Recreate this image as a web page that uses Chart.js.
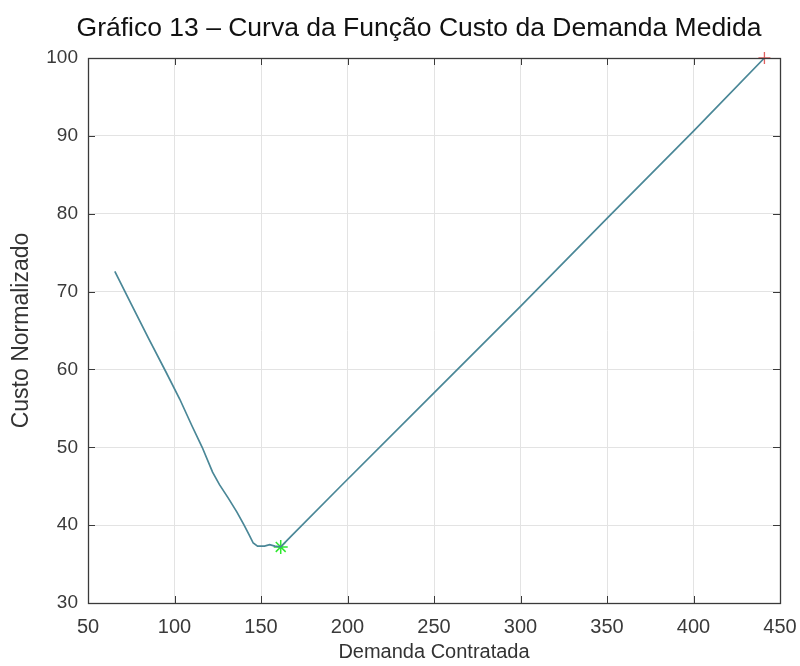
<!DOCTYPE html>
<html><head><meta charset="utf-8">
<script src="https://cdn.jsdelivr.net/npm/chart.js@4.4.1/dist/chart.umd.min.js"></script>
<style>html,body{margin:0;padding:0;background:#fff}#wrap{width:800px;height:666px;position:relative}</style>
</head><body><div id="wrap"><canvas id="c" width="800" height="666"></canvas></div>
<script>
const titleText = 'Gráfico 13 – Curva da Função Custo da Demanda Medida';
const xTitle = 'Demanda Contratada';
const yTitle = 'Custo Normalizado';
const demand = [65.5, 75, 85, 95, 103, 110, 116, 122, 126, 131, 136, 140, 143, 145.5, 148, 152, 155, 158, 161.4, 166.6, 195.6, 250, 300, 350, 400, 441];
const cost   = [72.6, 68.4, 64.0, 59.7, 56.2, 52.8, 50.0, 46.8, 45.2, 43.5, 41.7, 40.1, 38.8, 37.7, 37.3, 37.3, 37.5, 37.3, 37.2, 38.4, 44.9, 57.0, 68.1, 79.4, 90.6, 100];
const optimumX = [161.4];
const optimumY = [37.2];
const currentX = [441];
const currentY = [100];
const xTicks = [50, 100, 150, 200, 250, 300, 350, 400, 450];
const yTicks = [30, 40, 50, 60, 70, 80, 90, 100];

const toPts = (xs, ys) => xs.map((x, i) => ({x: x, y: ys[i]}));

const PL = 88, PR = 780, PT = 58, PB = 603;
const FONT = '"Liberation Sans", Arial, sans-serif';

const decor = {
  id: 'decor',
  afterDraw(chart) {
    const ctx = chart.ctx, a = chart.chartArea;
    const xs = chart.scales.x, ys = chart.scales.y;
    ctx.save();
    ctx.strokeStyle = '#3a3a3a';
    ctx.lineWidth = 1.3;
    ctx.strokeRect(Math.round(a.left) + 0.5, Math.round(a.top) + 0.5, Math.round(a.right - a.left), Math.round(a.bottom - a.top));
    const tl = 7;
    ctx.lineWidth = 1;
    ctx.beginPath();
    xTicks.forEach(v => {
      const p = Math.round(xs.getPixelForValue(v)) + 0.5;
      ctx.moveTo(p, a.bottom); ctx.lineTo(p, a.bottom - tl);
      ctx.moveTo(p, a.top); ctx.lineTo(p, a.top + tl);
    });
    yTicks.forEach(v => {
      const p = Math.round(ys.getPixelForValue(v)) + 0.5;
      ctx.moveTo(a.left, p); ctx.lineTo(a.left + tl, p);
      ctx.moveTo(a.right, p); ctx.lineTo(a.right - tl, p);
    });
    ctx.stroke();
    ctx.fillStyle = '#111';
    ctx.textAlign = 'center';
    ctx.textBaseline = 'alphabetic';
    ctx.font = '26.5px ' + FONT;
    ctx.fillText(titleText, 419, 36);
    ctx.fillStyle = '#333';
    ctx.textBaseline = 'middle';
    ctx.font = '20px ' + FONT;
    ctx.fillText(xTitle, (a.left + a.right) / 2, 652);
    ctx.translate(22, (a.top + a.bottom) / 2);
    ctx.rotate(-Math.PI / 2);
    ctx.font = '23px ' + FONT;
    ctx.fillText(yTitle, 0, 0);
    ctx.restore();
  }
};

new Chart(document.getElementById('c'), {
  type: 'scatter',
  data: {
    datasets: [
      { data: toPts(demand, cost), showLine: true, borderColor: '#4a8797', borderWidth: 1.7, pointRadius: 0, tension: 0, fill: false },
      { data: toPts(optimumX, optimumY), pointStyle: 'star', pointRadius: 7, borderColor: '#2ee82e', backgroundColor: '#2ee82e', borderWidth: 1.5, showLine: false, clip: false },
      { data: toPts(currentX, currentY), pointStyle: 'cross', pointRadius: 6, borderColor: '#e06060', backgroundColor: '#e06060', borderWidth: 1.3, showLine: false, clip: false }
    ]
  },
  options: {
    responsive: false,
    animation: false,
    devicePixelRatio: 1,
    layout: { padding: { left: 0, right: 800 - PR, top: PT, bottom: 0 } },
    plugins: { legend: { display: false }, tooltip: { enabled: false }, title: { display: false } },
    scales: {
      x: {
        type: 'linear', min: 50, max: 450,
        afterBuildTicks: s => { s.ticks = xTicks.map(v => ({value: v})); },
        afterFit: s => { s.height = 666 - PB; s.paddingLeft = 0; s.paddingRight = 0; },
        grid: { color: '#e3e3e3', drawTicks: false },
        border: { display: false },
        ticks: { color: '#3a3a3a', font: { family: FONT, size: 20 }, padding: 12, maxRotation: 0 }
      },
      y: {
        type: 'linear', min: 30, max: 100,
        afterBuildTicks: s => { s.ticks = yTicks.map(v => ({value: v})); },
        afterFit: s => { s.width = PL; s.paddingTop = 0; s.paddingBottom = 0; },
        grid: { color: '#e3e3e3', drawTicks: false },
        border: { display: false },
        ticks: { color: '#3a3a3a', font: { family: FONT, size: 19 }, padding: 10 }
      }
    }
  },
  plugins: [decor]
});
</script></body></html>
